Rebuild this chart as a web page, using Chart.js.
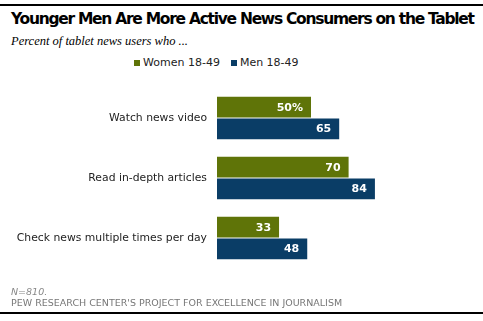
<!DOCTYPE html>
<html><head><meta charset="utf-8">
<script src="https://cdn.jsdelivr.net/npm/chart.js@4"></script>
<style>
html,body{margin:0;padding:0;background:#fff;}
#wrap{position:relative;width:483px;height:321px;overflow:hidden;font-family:"DejaVu Sans",Verdana,sans-serif;}
canvas{position:absolute;left:0;top:0;}
.rule{position:absolute;left:0;width:483px;height:2px;background:#000;}
#title{position:absolute;left:11px;top:10px;font-weight:bold;font-size:15.5px;color:#000;white-space:nowrap;}
#sub{position:absolute;left:11px;top:34px;font-family:"Liberation Serif",Georgia,serif;font-style:italic;font-size:12.5px;color:#000;white-space:nowrap;}
#legend{position:absolute;top:56px;left:134px;font-size:11px;color:#222;white-space:nowrap;}
#legend span.sw{display:inline-block;width:6px;height:6px;margin-right:3px;vertical-align:0px;}
#legend span.it{margin-right:11px;}
#n{position:absolute;left:11px;top:286px;font-size:9.5px;font-style:italic;color:#888;}
#src{position:absolute;left:11px;top:297px;font-size:9.5px;color:#777;white-space:nowrap;}
</style></head>
<body>
<div id="wrap">
<div class="rule" style="top:4px"></div>
<div id="title">Younger Men Are More Active News Consumers on the Tablet</div>
<div id="sub">Percent of tablet news users who ...</div>
<div id="legend"></div>
<canvas id="c" width="483" height="321"></canvas>
<div id="n">N=810.</div>
<div id="src">PEW RESEARCH CENTER'S PROJECT FOR EXCELLENCE IN JOURNALISM</div>
<div class="rule" style="top:312px"></div>
</div>
<script>
const categories = ["Watch news video", "Read in-depth articles", "Check news multiple times per day"];
const seriesNames = ["Women 18-49", "Men 18-49"];
const women = [50, 70, 33];
const men = [65, 84, 48];
const colors = ["#5f7408", "#0a3d66"];

// fit title to reference width
const t = document.getElementById('title');
const w = t.getBoundingClientRect().width;
t.style.letterSpacing = ((464 - w) / 55) + 'px';

const leg = document.getElementById('legend');
seriesNames.forEach((n,i)=>{
  const s=document.createElement('span');s.className='it';
  s.innerHTML='<span class="sw" style="background:'+colors[i]+'"></span>'+n;
  leg.appendChild(s);
});

const labelPlugin = {
  id:'vals',
  afterDatasetsDraw(chart){
    const ctx=chart.ctx;
    ctx.save();
    ctx.font='bold 11px "DejaVu Sans", Verdana, sans-serif';
    ctx.fillStyle='#fff';
    ctx.textAlign='right';
    ctx.textBaseline='middle';
    chart.data.datasets.forEach((ds,di)=>{
      chart.getDatasetMeta(di).data.forEach((bar,i)=>{
        let txt=String(ds.data[i]);
        if(di===0&&i===0) txt+='%';
        ctx.fillText(txt, bar.x-8, bar.y+0.5);
      });
    });
    ctx.restore();
  }
};

new Chart(document.getElementById('c'),{
  type:'bar',
  data:{labels:categories,datasets:[
    {label:seriesNames[0],data:women,backgroundColor:colors[0],categoryPercentage:0.72,barPercentage:0.96},
    {label:seriesNames[1],data:men,backgroundColor:colors[1],categoryPercentage:0.72,barPercentage:0.96}
  ]},
  options:{
    indexAxis:'y',
    responsive:false,
    animation:false,
    layout:{padding:{left:0,right:78,top:88,bottom:53}},
    plugins:{legend:{display:false},tooltip:{enabled:false}},
    scales:{
      x:{display:false,min:0,max:100},
      y:{
        grid:{display:false,drawTicks:false},border:{display:false},
        ticks:{padding:10,color:'#222',font:{family:'"DejaVu Sans", Verdana, sans-serif',size:10.8}},
        afterFit(s){s.width=217;}
      }
    }
  },
  plugins:[labelPlugin]
});
</script>
</body></html>
